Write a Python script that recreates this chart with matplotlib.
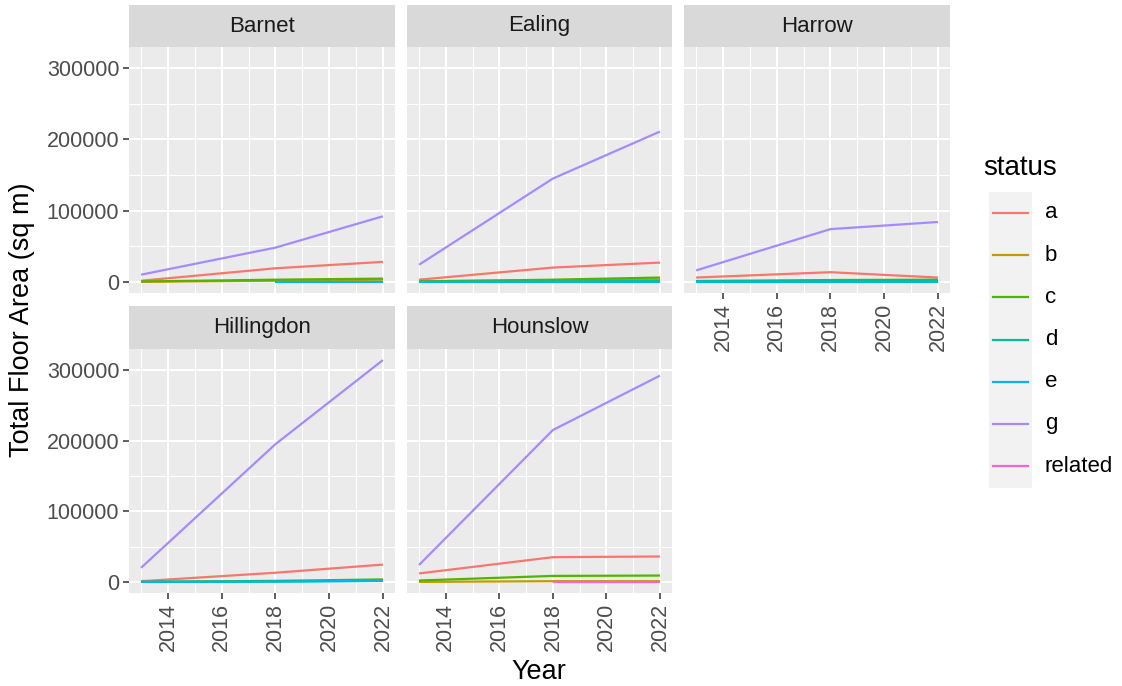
import numpy as np
import matplotlib
matplotlib.use("Agg")
import matplotlib.pyplot as plt
from matplotlib.patches import Rectangle
from matplotlib.ticker import MultipleLocator

plt.rcParams['font.family'] = ['Liberation Sans', 'DejaVu Sans']

years = [2013, 2018, 2022]
statuses = ["a", "b", "c", "d", "e", "g", "related"]
colors = {"a": "#F8766D", "b": "#C49A00", "c": "#53B400", "d": "#00C094",
          "e": "#00B6EB", "g": "#A58AFF", "related": "#FB61D7"}
nan = np.nan

barnet = {
    "a": [1500, 19000, 28000],
    "b": [0, 1500, 3000],
    "c": [500, 3000, 4500],
    "e": [nan, 0, 0],
    "g": [10000, 48000, 92000],
}
ealing = {
    "a": [3000, 20000, 27000],
    "b": [1000, 2000, 3500],
    "c": [500, 3000, 6000],
    "d": [0, 500, 1000],
    "e": [0, 0, 0],
    "g": [24000, 145000, 211000],
}
harrow = {
    "a": [6000, 13500, 6000],
    "c": [1000, 2500, 3000],
    "d": [500, 500, 500],
    "e": [0, 0, 0],
    "g": [16000, 74000, 84000],
}
hillingdon = {
    "a": [1000, 13000, 24500],
    "c": [0, 1500, 3500],
    "d": [0, 500, 1500],
    "e": [0, 500, 1500],
    "g": [20000, 195000, 314000],
}
hounslow = {
    "a": [12000, 35000, 36000],
    "b": [0, 1000, 1000],
    "c": [2000, 8500, 9000],
    "related": [nan, 0, 0],
    "g": [24000, 215000, 292000],
}
boroughs = ["Barnet", "Ealing", "Harrow", "Hillingdon", "Hounslow"]
panel_data = [barnet, ealing, harrow, hillingdon, hounslow]

W, H = 1122, 686
fig = plt.figure(figsize=(W / 100, H / 100), dpi=100)
fig.patch.set_facecolor("white")


def px_axes(x0, y0, x1, y1):
    return fig.add_axes([x0 / W, 1 - y1 / H, (x1 - x0) / W, (y1 - y0) / H])


col_x = [(129, 395), (407, 672), (684, 950)]
rows = [((5, 47), (47, 293)), ((306, 349), (349, 593))]

ymax_all = max(np.nanmax(v) for d in panel_data for v in d.values())
ymin_all = 0
yspan = ymax_all - ymin_all
ylim = (ymin_all - 0.05 * yspan, ymax_all + 0.05 * yspan)
xlim = (years[0] - 0.05 * (years[-1] - years[0]), years[-1] + 0.05 * (years[-1] - years[0]))

TICK_FS = 15.5
STRIP_FS = 16
TITLE_FS = 19.5
for i, (name, data) in enumerate(zip(boroughs, panel_data)):
    r, c = divmod(i, 3)
    (sy0, sy1), (py0, py1) = rows[r]
    x0, x1 = col_x[c]
    ax = px_axes(x0, py0, x1, py1)
    ax.set_facecolor("#EBEBEB")
    for s in statuses:
        if s in data:
            ax.plot(years, data[s], color=colors[s], lw=1.6, solid_capstyle="butt", zorder=3)
    ax.set_xlim(*xlim)
    ax.set_ylim(*ylim)
    ax.xaxis.set_major_locator(MultipleLocator(2))
    ax.xaxis.set_minor_locator(MultipleLocator(1))
    ax.yaxis.set_major_locator(MultipleLocator(100000))
    ax.yaxis.set_minor_locator(MultipleLocator(50000))
    ax.grid(which="major", color="white", lw=1.5, zorder=1)
    ax.grid(which="minor", color="white", lw=0.75, zorder=1)
    ax.set_axisbelow(True)
    for sp in ax.spines.values():
        sp.set_visible(False)
    ax.tick_params(which="minor", length=0)
    ax.tick_params(which="major", length=4, width=1.1, color="#333333",
                   labelcolor="#4D4D4D", labelsize=TICK_FS, pad=3)
    show_x = (r == 1) or (c == 2)
    show_y = (c == 0)
    ax.tick_params(axis="x", bottom=show_x, labelbottom=show_x, labelrotation=90)
    ax.tick_params(axis="y", left=show_y, labelleft=show_y)
    ax.yaxis.set_major_formatter(matplotlib.ticker.FuncFormatter(lambda v, p: f"{int(round(v))}"))

    sax = px_axes(x0, sy0, x1, sy1)
    sax.set_facecolor("#D9D9D9")
    sax.set_xticks([])
    sax.set_yticks([])
    for sp in sax.spines.values():
        sp.set_visible(False)
    sax.text(0.5, 0.5, name, ha="center", va="center", fontsize=STRIP_FS,
             color="#1A1A1A", transform=sax.transAxes)

fig.text(22 / W, 1 - 320 / H, "Total Floor Area (sq m)", rotation=90, ha="center",
         va="center", fontsize=TITLE_FS, color="black")
fig.text(539 / W, 1 - 672 / H, "Year", ha="center", va="center", fontsize=TITLE_FS, color="black")

# legend
lax = fig.add_axes([0, 0, 1, 1], facecolor="none")
lax.set_xlim(0, W)
lax.set_ylim(H, 0)
lax.axis("off")
lax.text(983, 168, "status", ha="left", va="center", fontsize=20, color="black")
lax.add_patch(Rectangle((989, 192), 43, 296, facecolor="#F2F2F2", edgecolor="none"))
for k, s in enumerate(statuses):
    yy = 213 + k * 42.2
    lax.plot([993, 1028], [yy, yy], color=colors[s], lw=1.6)
    lax.text(1045, yy, s, ha="left", va="center", fontsize=STRIP_FS, color="black")

fig.savefig("out.png", dpi=100)
